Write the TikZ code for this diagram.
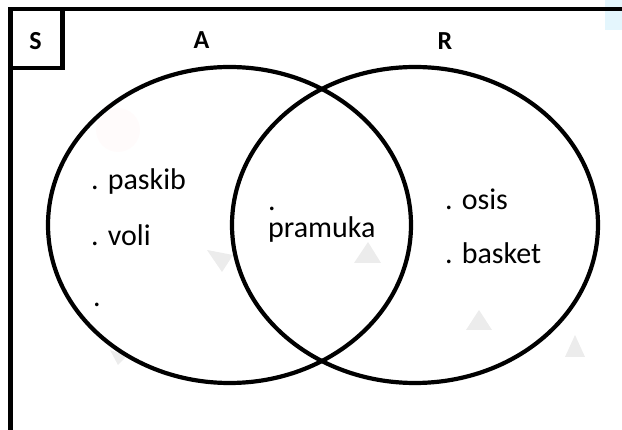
\documentclass[tikz,border=0pt]{standalone}
\usepackage{fontspec}
\setmainfont{Carlito}
\usetikzlibrary{shapes.geometric}
\begin{document}
\begin{tikzpicture}[x=1pt,y=-1pt,
  setline/.style={line width=4.2pt},
  setname/.style={font=\bfseries\fontsize{26}{30}\selectfont, inner sep=0pt},
  member/.style={font=\fontsize{30}{36}\selectfont, anchor=base west, inner sep=0pt},
  lonedot/.style={member, text height=4pt, text depth=0pt},
  setoval/.style={ellipse, draw, setline, inner sep=0pt, minimum width=#1},
  faintmark/.style={fill=black!30, opacity=0.25}]
  \useasboundingbox (0,0) rectangle (622,430);
  % faint background pattern
  \fill[pink!40, opacity=0.15] (118,130) circle (22);
  \fill[cyan!30, opacity=0.35] (605,0) rectangle (622,30);
  \fill[faintmark] (354,263) -- (368,242) -- (381,263) -- cycle;
  \fill[faintmark] (466,330) -- (479,310) -- (492,330) -- cycle;
  \fill[faintmark] (565,357) -- (575,335) -- (585,357) -- cycle;
  \fill[faintmark] (207,250) -- (233,255) -- (222,272) -- cycle;
  \fill[faintmark] (110,350) -- (127,356) -- (118,365) -- cycle;
  % universal set frame and its label box
  \coordinate (frameBL) at (10.5,432);
  \coordinate (frameTL) at (10.5,9);
  \coordinate (frameTR) at (624,9);
  \draw[setline] (frameBL) -- (frameTL) -- (frameTR);
  \node[draw, setline, minimum width=52pt, minimum height=59pt, inner sep=0pt] (Sbox) at (36.5,38.5) {};
  \node[setname] (S) at (35.5,41) {S};
  % the two sets
  \node[setoval=363pt, minimum height=316pt] (A) at (229.5,225) {};
  \node[setoval=366pt, minimum height=316pt] (R) at (415,225) {};
  \node[setname] (Alabel) at (201.5,40.5) {A};
  \node[setname] (Rlabel) at (445,41) {R};
  % members
  \node[member] (paskib) at (91,190) {. paskib};
  \node[member] (voli) at (91,246) {. voli};
  \node[lonedot] (blank) at (93,307) {.};
  \node[member] (pramuka) at (268,238) {\makebox[0pt][l]{\raisebox{27pt}{.}}pramuka};
  \node[member] (osis) at (445,210) {. osis};
  \node[member] (basket) at (445,264) {. basket};
\end{tikzpicture}
\end{document}
